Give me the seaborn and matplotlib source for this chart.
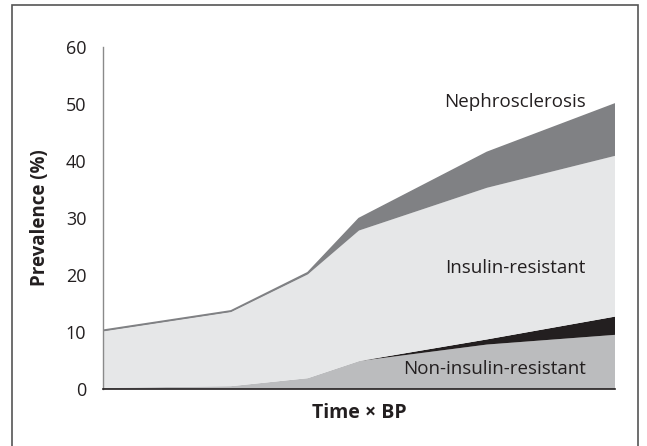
import matplotlib
matplotlib.use("Agg")
import matplotlib.pyplot as plt
import seaborn as sns
import pandas as pd
from matplotlib.patches import Rectangle

# ---- data ----
time_bp = [0, 1, 1.6, 2, 3, 4]
non_insulin_resistant = [0.2, 0.5, 1.9, 4.9, 7.8, 9.5]
other_black = [0.0, 0.0, 0.0, 0.0, 0.9, 3.2]
insulin_resistant = [9.9, 13.0, 18.2, 22.9, 26.6, 28.2]
nephrosclerosis = [0.2, 0.2, 0.3, 2.1, 6.2, 9.1]

layer_names = ["Non-insulin-resistant", "Other", "Insulin-resistant", "Nephrosclerosis"]
layer_colors = ["#bbbcbe", "#231f20", "#e6e7e8", "#808184"]
y_ticks = [0, 10, 20, 30, 40, 50, 60]

df = pd.DataFrame({
    "t": time_bp,
    "Non-insulin-resistant": non_insulin_resistant,
    "Other": other_black,
    "Insulin-resistant": insulin_resistant,
    "Nephrosclerosis": nephrosclerosis,
})
df["total"] = df[layer_names].sum(axis=1)

sns.set_style("white")
plt.rcParams["font.family"] = ["Open Sans", "DejaVu Sans"]

fig = plt.figure(figsize=(6.47, 4.46), dpi=100)
ax = fig.add_axes([103/647, 1-389/446, (615-103)/647, (389-47)/446])

ax.stackplot(df["t"], *[df[n] for n in layer_names], colors=layer_colors,
             linewidth=0, edgecolor="none")
sns.lineplot(data=df, x="t", y="total", ax=ax, color="#808184", linewidth=1.2)

ax.set_xlim(0, 4)
ax.set_ylim(0, 60)
ax.set_yticks(y_ticks)
ax.set_yticklabels([str(v) for v in y_ticks], fontsize=13, color="#231f20")
ax.set_xticks([])
ax.tick_params(axis="y", length=0, pad=12)

for s in ["top", "right"]:
    ax.spines[s].set_visible(False)
ax.spines["left"].set_color("#8a8a8a")
ax.spines["left"].set_linewidth(1.0)
ax.spines["bottom"].set_color("#231f20")
ax.spines["bottom"].set_linewidth(1.2)

ax.set_ylabel("Prevalence (%)", fontsize=13.5, fontweight="bold", color="#231f20", labelpad=11)
ax.set_xlabel("Time × BP", fontsize=14, fontweight="bold", color="#231f20", labelpad=10)

ax.text(3.77, 50.3, "Nephrosclerosis", ha="right", va="center", fontsize=13.5, color="#231f20")
ax.text(3.77, 21.2, "Insulin-resistant", ha="right", va="center", fontsize=13.5, color="#231f20")
ax.text(3.77, 3.45, "Non-insulin-resistant", ha="right", va="center", fontsize=13.5, color="#231f20")

# outer frame
fig.patches.append(Rectangle((12/647, -0.02), (638-12)/647, 1-5/446+0.02,
                             transform=fig.transFigure, fill=False,
                             edgecolor="#555555", linewidth=1.2))

fig.savefig("out.png", dpi=100)
